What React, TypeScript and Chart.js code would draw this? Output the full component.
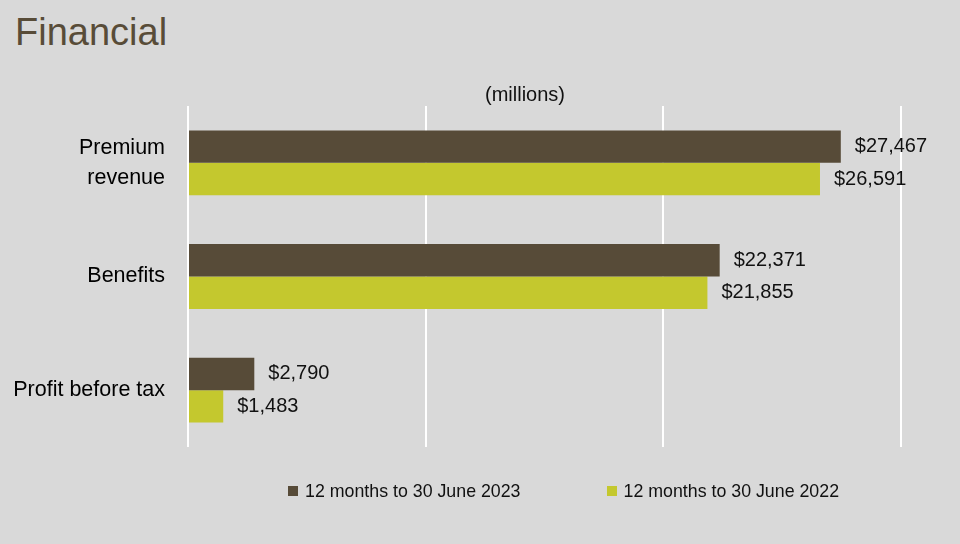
import React, { useEffect, useRef } from "react";
import { Chart, registerables } from "chart.js";

Chart.register(...registerables);

const categories: (string | string[])[] = [["Premium", "revenue"], "Benefits", "Profit before tax"];
const seriesNames = ["12 months to 30 June 2023", "12 months to 30 June 2022"];
const values2023 = [27467, 22371, 2790];
const values2022 = [26591, 21855, 1483];
const xTicks = [0, 10000, 20000, 30000];
const seriesColors = ["#574b38", "#c4c82e"];

const FONT = "'Liberation Sans', Arial, sans-serif";

const valueLabels = {
  id: "valueLabels",
  afterDatasetsDraw(chart: any) {
    const ctx = chart.ctx;
    ctx.save();
    ctx.font = `20px ${FONT}`;
    ctx.fillStyle = "#111";
    ctx.textBaseline = "middle";
    ctx.textAlign = "left";
    chart.data.datasets.forEach((ds: any, di: number) => {
      const meta = chart.getDatasetMeta(di);
      meta.data.forEach((bar: any, i: number) => {
        const v = ds.data[i] as number;
        ctx.fillText("$" + v.toLocaleString("en-US"), bar.x + 14, bar.y);
      });
    });
    ctx.restore();
  },
};

const unitsLabel = {
  id: "unitsLabel",
  afterDraw(chart: any) {
    const ctx = chart.ctx;
    ctx.save();
    ctx.font = `20px ${FONT}`;
    ctx.fillStyle = "#111";
    ctx.textBaseline = "middle";
    ctx.textAlign = "center";
    ctx.fillText("(millions)", 525, 95);
    ctx.restore();
  },
};

export default function App() {
  const ref = useRef<HTMLCanvasElement>(null);
  useEffect(() => {
    if (!ref.current) return;
    const chart = new Chart(ref.current, {
      type: "bar",
      data: {
        labels: categories as any,
        datasets: [
          { label: seriesNames[0], data: values2023, backgroundColor: seriesColors[0] },
          { label: seriesNames[1], data: values2022, backgroundColor: seriesColors[1] },
        ],
      },
      options: {
        indexAxis: "y",
        responsive: false,
        animation: false,
        events: [],
        layout: { padding: { top: 106, right: 59, bottom: 97, left: 0 } },
        datasets: { bar: { categoryPercentage: 0.57, barPercentage: 1 } } as any,
        plugins: { legend: { display: false }, tooltip: { enabled: false }, title: { display: false } },
        scales: {
          x: {
            min: 0,
            max: 30000,
            afterBuildTicks: (s: any) => {
              s.ticks = xTicks.map((v) => ({ value: v }));
            },
            ticks: { display: false },
            grid: { color: "#ffffff", lineWidth: 2, drawTicks: false },
            border: { display: false },
          },
          y: {
            afterFit: (s: any) => {
              s.width = 188;
            },
            ticks: {
              padding: 23,
              color: "#000",
              font: { family: FONT, size: 21.5, lineHeight: 1.4 },
            },
            grid: { display: false, drawTicks: false },
            border: { display: false },
          },
        },
      },
      plugins: [valueLabels, unitsLabel],
    });
    return () => chart.destroy();
  }, []);

  return (
    <div style={{ position: "fixed", left: 0, top: 0, width: 960, height: 544, background: "#d9d9d9", overflow: "hidden" }}>
      <div
        style={{
          position: "absolute",
          left: 15,
          top: 13,
          fontFamily: FONT,
          fontSize: 38,
          lineHeight: "38px",
          color: "#584c38",
        }}
      >
        Financial
      </div>
      <canvas ref={ref} width={960} height={544} style={{ position: "absolute", left: 0, top: 0 }} />
      <div
        style={{
          position: "absolute",
          left: 288,
          top: 480,
          height: 22,
          display: "flex",
          alignItems: "center",
          fontFamily: FONT,
          fontSize: 17.8,
          color: "#111",
          whiteSpace: "nowrap",
        }}
      >
        {seriesNames.map((n, i) => (
          <div key={n} style={{ display: "flex", alignItems: "center", marginRight: i === 0 ? 86 : 0 }}>
            <span style={{ display: "inline-block", width: 10, height: 10, background: seriesColors[i], marginRight: 7 }} />
            <span>{n}</span>
          </div>
        ))}
      </div>
    </div>
  );
}
